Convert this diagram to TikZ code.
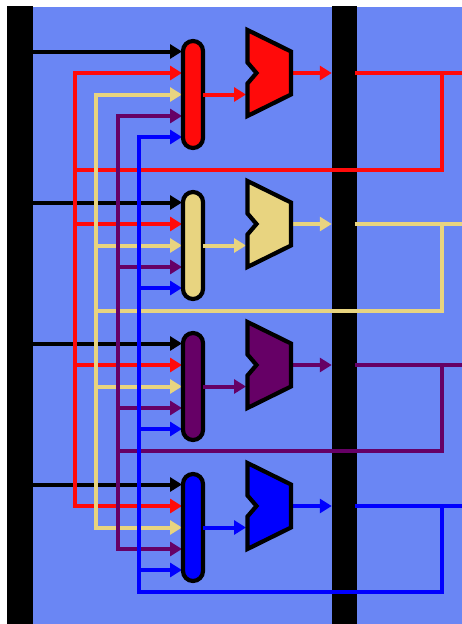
\documentclass[tikz,border=0pt]{standalone}
\usetikzlibrary{arrows.meta, calc}
\definecolor{panelblue}{HTML}{6A86F4}
\definecolor{wirered}{HTML}{FF0A0A}
\definecolor{wireyellow}{HTML}{E8D480}
\definecolor{wirepurple}{HTML}{660066}
\definecolor{wireblue}{HTML}{0000FF}
\tikzset{
  bus/.style={rectangle, fill=black, minimum width=25.5pt, minimum height=619pt, inner sep=0pt, outer sep=0pt},
  capsule/.style={rectangle, rounded corners=10pt, draw=black, line width=4.2pt, minimum width=20pt, minimum height=107pt, inner sep=0pt},
  wire/.style={line width=4pt, line cap=rect},
  feed/.style={wire, -{Triangle[length=12pt,width=14pt]}}
}
\newcommand{\aluslice}[2]{
    \begin{scope}[shift={(0,#1)}]
        \draw[fill=#2, line width=4.2pt, line join=miter]
            (247.5,-43) -- (291,-21.5) -- (291,21.5) -- (247.5,43) -- (247.5,10.5) -- (256.5,0) -- (247.5,-10.5) -- cycle;
    \end{scope}
}

\begin{document}
\begin{tikzpicture}[x=1pt, y=-1pt]
    \useasboundingbox (0,0) rectangle (462,624);
    \fill[panelblue] (8,7) rectangle (462,624);

    % Buses
    \node[bus] (busL) at (20,315.5) {};
    \node[bus] (busR) at (344.5,315.5) {};

    % Anchor points of each slice
    \foreach \m/\ya in {1/73, 2/224, 3/365, 4/506} {
        \coordinate (in\m1) at (182,\ya-21.5);
        \coordinate (in\m2) at (182,\ya);
        \coordinate (in\m3) at (182,\ya+21.5);
        \coordinate (in\m4) at (182,\ya+43);
        \coordinate (in\m5) at (182,\ya+64);
        \coordinate (aluin\m) at (246,\ya+21.5);
        \coordinate (aluout\m) at (291,\ya);
        \coordinate (tap\m) at (442,\ya);
        \coordinate (edge\m) at (462,\ya);
    }

    % Black inputs
    \foreach \m in {1,2,3,4} {
        \draw[feed, black] (busL.east |- in\m1) -- (in\m1);
    }

    % Feedback wires, then their inputs
    \foreach \r/\i/\col/\sx/\fby in {
        1/2/wirered/75/170,
        2/3/wireyellow/96/311,
        3/4/wirepurple/118/451,
        4/5/wireblue/139/592
    } {
        \coordinate (turn\r) at (442,\fby);
        \coordinate (spine\r) at (\sx,\fby);
        \draw[wire, \col] (tap\r) -- (turn\r) -- (spine\r);
        \draw[wire, \col] (spine\r |- in1\i) -- (spine\r |- in4\i);
        \draw[wire, \col] (spine\r |- in4\i) -- (spine\r);
        \foreach \m in {1,2,3,4} {
            \draw[feed, \col] (spine\r |- in\m\i) -- (in\m\i);
        }
    }

    % Capsules, ALUs and outputs
    \foreach \m/\ya/\col in {1/73/wirered, 2/224/wireyellow, 3/365/wirepurple, 4/506/wireblue} {
        \node[capsule, fill=\col] (cap\m) at (193,\ya+21.5) {};
        \draw[feed, \col] (cap\m.east) -- (aluin\m);
        \draw[feed, \col] (aluout\m) -- (busR.west |- aluout\m);
        \draw[wire, \col] (busR.east |- aluout\m) -- (edge\m);
        \aluslice{\ya}{\col}
    }
\end{tikzpicture}
\end{document}
